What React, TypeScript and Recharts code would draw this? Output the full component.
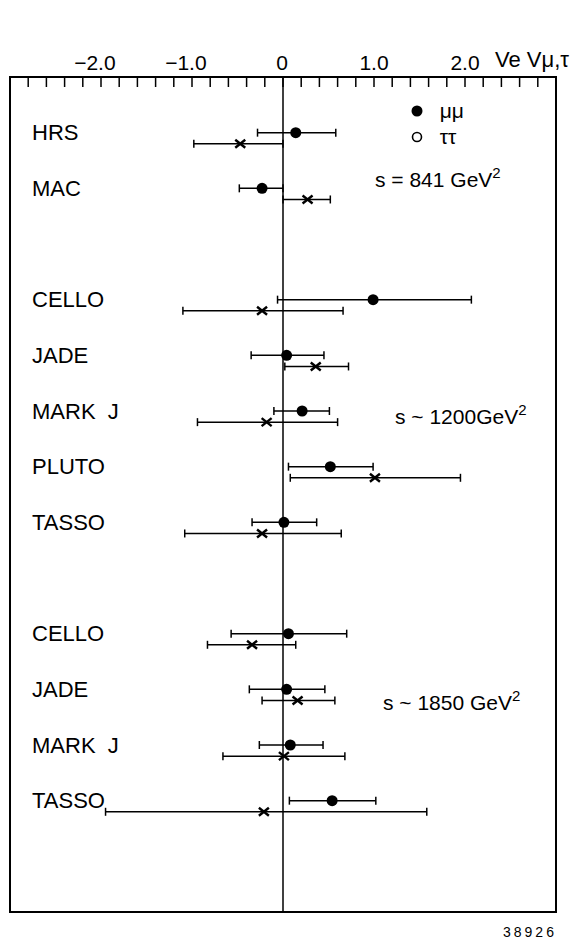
import React from "react"
import {
    ScatterChart,
    Scatter,
    XAxis,
    YAxis,
    ErrorBar,
    ReferenceLine,
    ReferenceArea,
    Legend
} from "recharts"

// rows, top to bottom (slot = row position, gaps between energy groups)
const experiments = ["HRS", "MAC", "CELLO", "JADE", "MARK J", "PLUTO", "TASSO", "CELLO", "JADE", "MARK J", "TASSO"]
const rowSlot = [0, 1, 3, 4, 5, 6, 7, 9, 10, 11, 12]

// mu mu : central value and error bar ends
const mumuValue = [0.14, -0.23, 0.99, 0.04, 0.21, 0.52, 0.01, 0.06, 0.04, 0.08, 0.54]
const mumuLow = [-0.28, -0.48, -0.06, -0.35, -0.10, 0.06, -0.34, -0.57, -0.37, -0.26, 0.07]
const mumuHigh = [0.58, 0.0, 2.07, 0.45, 0.51, 0.99, 0.37, 0.70, 0.46, 0.44, 1.02]

// tau tau
const tautauValue = [-0.47, 0.27, -0.23, 0.36, -0.18, 1.01, -0.23, -0.34, 0.16, 0.01, -0.21]
const tautauLow = [-0.98, 0.0, -1.10, 0.02, -0.94, 0.08, -1.08, -0.83, -0.23, -0.66, -1.95]
const tautauHigh = [0.0, 0.52, 0.66, 0.72, 0.60, 1.95, 0.64, 0.14, 0.57, 0.68, 1.58]

const labelTicks = [-2, -1, 0, 1, 2]
const minorTicks = [
    -2.8, -2.6, -2.4, -2.2, -2.0, -1.8, -1.6, -1.4, -1.2, -1.0,
    -0.8, -0.6, -0.4, -0.2, 0, 0.2, 0.4, 0.6, 0.8, 1.0,
    1.2, 1.4, 1.6, 1.8, 2.0, 2.2, 2.4, 2.6, 2.8
]

const FONT = "'Liberation Sans', Arial, sans-serif"
const TAU_OFFSET = 0.2

const mumuData = rowSlot.map((slot, i) => ({
    x: mumuValue[i],
    y: slot,
    err: [mumuValue[i] - mumuLow[i], mumuHigh[i] - mumuValue[i]]
}))
const tautauData = rowSlot.map((slot, i) => ({
    x: tautauValue[i],
    y: slot + TAU_OFFSET,
    err: [tautauValue[i] - tautauLow[i], tautauHigh[i] - tautauValue[i]]
}))

const DotShape = (props: any) => <circle cx={props.cx} cy={props.cy} r={5.5} fill="#000" />

const CrossShape = (props: any) => {
    const { cx, cy } = props
    return (
        <g stroke="#000" strokeWidth={2.4}>
            <line x1={cx - 5} y1={cy - 4} x2={cx + 5} y2={cy + 4} />
            <line x1={cx - 5} y1={cy + 4} x2={cx + 5} y2={cy - 4} />
        </g>
    )
}

const TopTick = (props: any) => {
    const { x, payload } = props
    const v = payload.value
    if (v === 0) {
        return <text x={x - 1} y={62} textAnchor="middle" dominantBaseline="central" fontSize={21} fontFamily={FONT} fill="#000">0</text>
    }
    const label = (v < 0 ? "\u2212" : "") + Math.abs(v).toFixed(1)
    return (
        <text x={x + 14.6} y={62} textAnchor="end" dominantBaseline="central" fontSize={21} fontFamily={FONT} fill="#000">
            {label}
        </text>
    )
}

const RowTick = (props: any) => {
    const { y, payload } = props
    const idx = rowSlot.indexOf(payload.value)
    return (
        <text x={32} y={y} dominantBaseline="central" fontSize={22} fontFamily={FONT} fill="#000" style={{ wordSpacing: 6 }}>
            {experiments[idx]}
        </text>
    )
}

const renderLegend = (props: any) => {
    const { payload } = props
    return (
        <div style={{ fontFamily: FONT, fontSize: 21 }}>
            {payload.map((entry: any, index: number) => (
                <div key={`leg-${index}`} style={{ display: 'flex', alignItems: 'center', height: 26 }}>
                    <svg width={20} height={26}>
                        {index === 0
                            ? <circle cx={10} cy={13} r={5.5} fill="#000" />
                            : <circle cx={10} cy={13} r={4.5} fill="none" stroke="#000" strokeWidth={1.6} />}
                    </svg>
                    <span style={{ marginLeft: 13, lineHeight: '26px' }}>{entry.value}</span>
                </div>
            ))}
        </div>
    )
}

const noteStyle: React.CSSProperties = {
    position: 'absolute',
    fontFamily: FONT,
    fontSize: 21,
    lineHeight: '24px',
    whiteSpace: 'nowrap',
    color: '#000'
}
const supStyle: React.CSSProperties = { fontSize: 15, position: 'relative', top: -9 }

export default function App() {
    return (
        <div style={{ position: 'absolute', left: 0, top: 0, width: 578, height: 943, background: '#fff' }}>
            <ScatterChart width={578} height={943} margin={{ top: 77, right: 22, bottom: 31, left: 10 }}>
                {/* inner tick marks along the top edge */}
                <XAxis
                    xAxisId="t"
                    type="number"
                    dataKey="x"
                    orientation="top"
                    mirror
                    height={1}
                    domain={[-3, 3]}
                    allowDataOverflow
                    ticks={minorTicks}
                    interval={0}
                    tickSize={9}
                    tickLine={{ stroke: '#000', strokeWidth: 1.5 }}
                    axisLine={false}
                    tickFormatter={() => ''}
                />
                <XAxis
                    xAxisId={0}
                    type="number"
                    dataKey="x"
                    orientation="top"
                    mirror
                    height={1}
                    domain={[-3, 3]}
                    allowDataOverflow
                    ticks={labelTicks}
                    interval={0}
                    tickLine={false}
                    axisLine={false}
                    tick={<TopTick />}
                />
                <YAxis
                    type="number"
                    dataKey="y"
                    domain={[-1, 14]}
                    reversed
                    allowDataOverflow
                    mirror
                    width={60}
                    ticks={rowSlot}
                    interval={0}
                    tickLine={false}
                    axisLine={false}
                    tick={<RowTick />}
                />
                <ReferenceArea
                    x1={-3}
                    x2={3}
                    y1={-1}
                    y2={14}
                    fill="none"
                    fillOpacity={0}
                    stroke="#000"
                    strokeWidth={2}
                    ifOverflow="visible"
                />
                <ReferenceLine x={0} stroke="#000" strokeWidth={1.5} ifOverflow="visible" />
                <Legend
                    layout="horizontal"
                    verticalAlign="middle"
                    align="center"
                    content={renderLegend}
                    wrapperStyle={{ left: 406.7, top: 97.7, width: 80 }}
                />
                <Scatter name="μμ" data={mumuData} shape={DotShape} isAnimationActive={false}>
                    <ErrorBar dataKey="err" direction="x" width={4} stroke="#000" strokeWidth={1.5} isAnimationActive={false} />
                </Scatter>
                <Scatter name="ττ" data={tautauData} shape={CrossShape} isAnimationActive={false}>
                    <ErrorBar dataKey="err" direction="x" width={4} stroke="#000" strokeWidth={1.5} isAnimationActive={false} />
                </Scatter>
            </ScatterChart>
            <div style={{ ...noteStyle, left: 495, top: 47.5, fontSize: 22 }}>Ve Vμ,τ</div>
            <div style={{ ...noteStyle, left: 375, top: 168 }}>s = 841 GeV<span style={supStyle}>2</span></div>
            <div style={{ ...noteStyle, left: 395, top: 405 }}>s ~ 1200GeV<span style={supStyle}>2</span></div>
            <div style={{ ...noteStyle, left: 383, top: 691 }}>s ~ 1850 GeV<span style={supStyle}>2</span></div>
            <div style={{ ...noteStyle, left: 503, top: 924, fontSize: 14, lineHeight: '16px', letterSpacing: 3 }}>38926</div>
        </div>
    )
}
